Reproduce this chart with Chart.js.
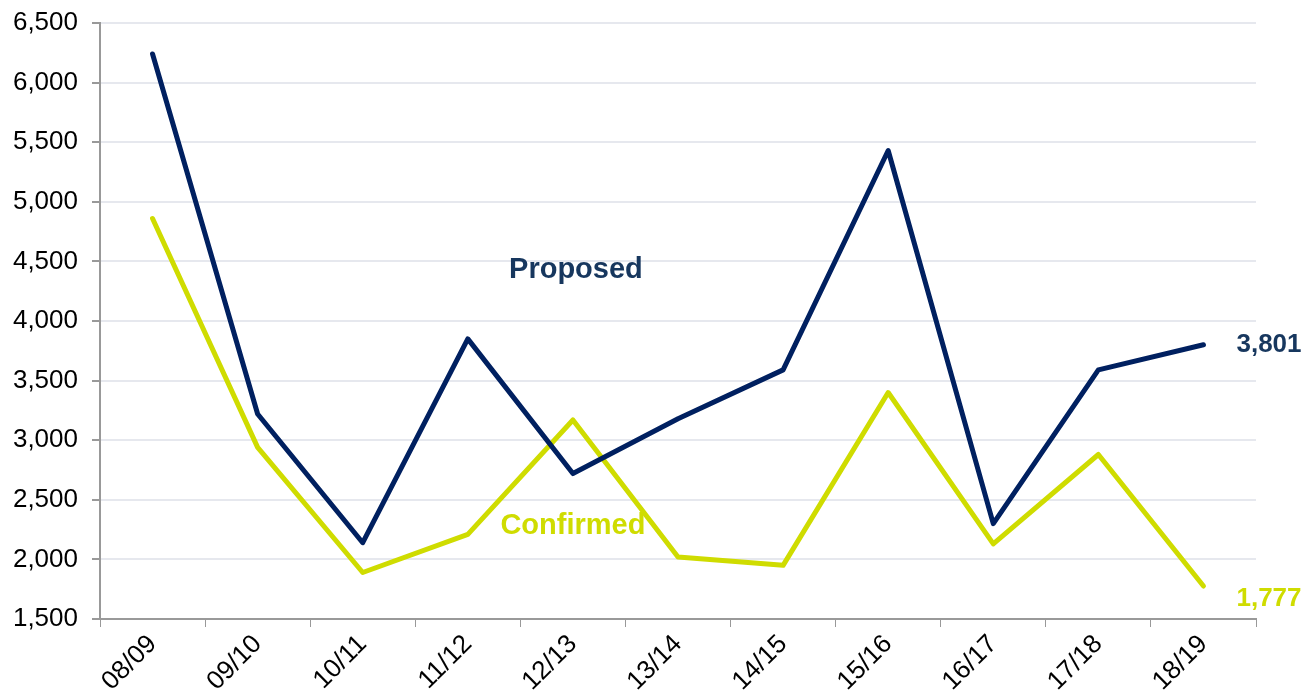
<!DOCTYPE html>
<html>
<head>
<meta charset="utf-8">
<script src="https://cdn.jsdelivr.net/npm/chart.js@4.4.1/dist/chart.umd.min.js"></script>
<style>
    html, body { margin: 0; padding: 0; background: #fff; }
    #wrap { width: 1316px; height: 696px; }
</style>
</head>
<body>
<div id="wrap"><canvas id="chart" width="1316" height="696"></canvas></div>
<script>
const years = ['08/09', '09/10', '10/11', '11/12', '12/13', '13/14', '14/15', '15/16', '16/17', '17/18', '18/19'];
const proposed = [6240, 3220, 2140, 3850, 2720, 3180, 3590, 5430, 2300, 3590, 3801];
const confirmed = [4860, 2940, 1890, 2210, 3170, 2020, 1950, 3400, 2130, 2880, 1777];

const navy = '#002060';
const navyText = '#17375e';
const lime = '#cfdc00';
const fontFamily = '"Liberation Sans", Arial, sans-serif';

// series names and last values written next to the lines
const labelPlugin = {
    id: 'lineLabels',
    afterDatasetsDraw(chart) {
        const ctx = chart.ctx;
        const x = chart.scales.x;
        const y = chart.scales.y;
        ctx.save();
        ctx.font = 'bold 29px ' + fontFamily;
        ctx.textBaseline = 'middle';
        ctx.textAlign = 'center';
        ctx.fillStyle = navyText;
        ctx.fillText('Proposed', x.getPixelForValue(4) + 3, y.getPixelForValue(4430));
        ctx.fillStyle = lime;
        ctx.fillText('Confirmed', x.getPixelForValue(4), y.getPixelForValue(2280));

        const last = years.length - 1;
        const lx = x.getPixelForValue(last) + 33;
        ctx.font = 'bold 26px ' + fontFamily;
        ctx.textAlign = 'left';
        ctx.fillStyle = navyText;
        ctx.fillText(proposed[last].toLocaleString('en-US'), lx, y.getPixelForValue(proposed[last]));
        ctx.fillStyle = lime;
        ctx.fillText(confirmed[last].toLocaleString('en-US'), lx, y.getPixelForValue(confirmed[last]) + 13);
        ctx.restore();
    }
};

new Chart(document.getElementById('chart'), {
    type: 'line',
    data: {
        labels: years,
        datasets: [{
            label: 'Proposed',
            data: proposed,
            borderColor: navy,
            borderWidth: 5,
            pointRadius: 0,
            tension: 0,
            borderCapStyle: 'round',
            borderJoinStyle: 'round'
        }, {
            label: 'Confirmed',
            data: confirmed,
            borderColor: lime,
            borderWidth: 5,
            pointRadius: 0,
            tension: 0,
            borderCapStyle: 'round',
            borderJoinStyle: 'round'
        }]
    },
    options: {
        responsive: false,
        animation: false,
        layout: { padding: { top: 23, right: 60, left: 0, bottom: 0 } },
        plugins: {
            legend: { display: false },
            tooltip: { enabled: false }
        },
        scales: {
            x: {
                offset: true,
                grid: {
                    display: true,
                    drawOnChartArea: false,
                    offset: true,
                    color: '#999',
                    tickLength: 8
                },
                border: { color: '#999', width: 2 },
                ticks: {
                    color: '#000',
                    font: { family: fontFamily, size: 26 },
                    minRotation: 45,
                    maxRotation: 45,
                    padding: 2
                },
                afterFit(scale) {
                    scale.height = 77;
                    scale.paddingLeft = 0;
                    scale.paddingRight = 0;
                }
            },
            y: {
                min: 1500,
                max: 6500,
                ticks: {
                    stepSize: 500,
                    color: '#000',
                    font: { family: fontFamily, size: 26 },
                    padding: 14,
                    callback: v => v.toLocaleString('en-US')
                },
                grid: {
                    color: '#e6e8ee',
                    lineWidth: 2,
                    tickColor: '#999',
                    tickLength: 8
                },
                border: { color: '#999', width: 2 },
                afterFit(scale) {
                    scale.width = 100;
                    scale.paddingTop = 0;
                    scale.paddingBottom = 0;
                }
            }
        }
    },
    plugins: [labelPlugin]
});
</script>
</body>
</html>
